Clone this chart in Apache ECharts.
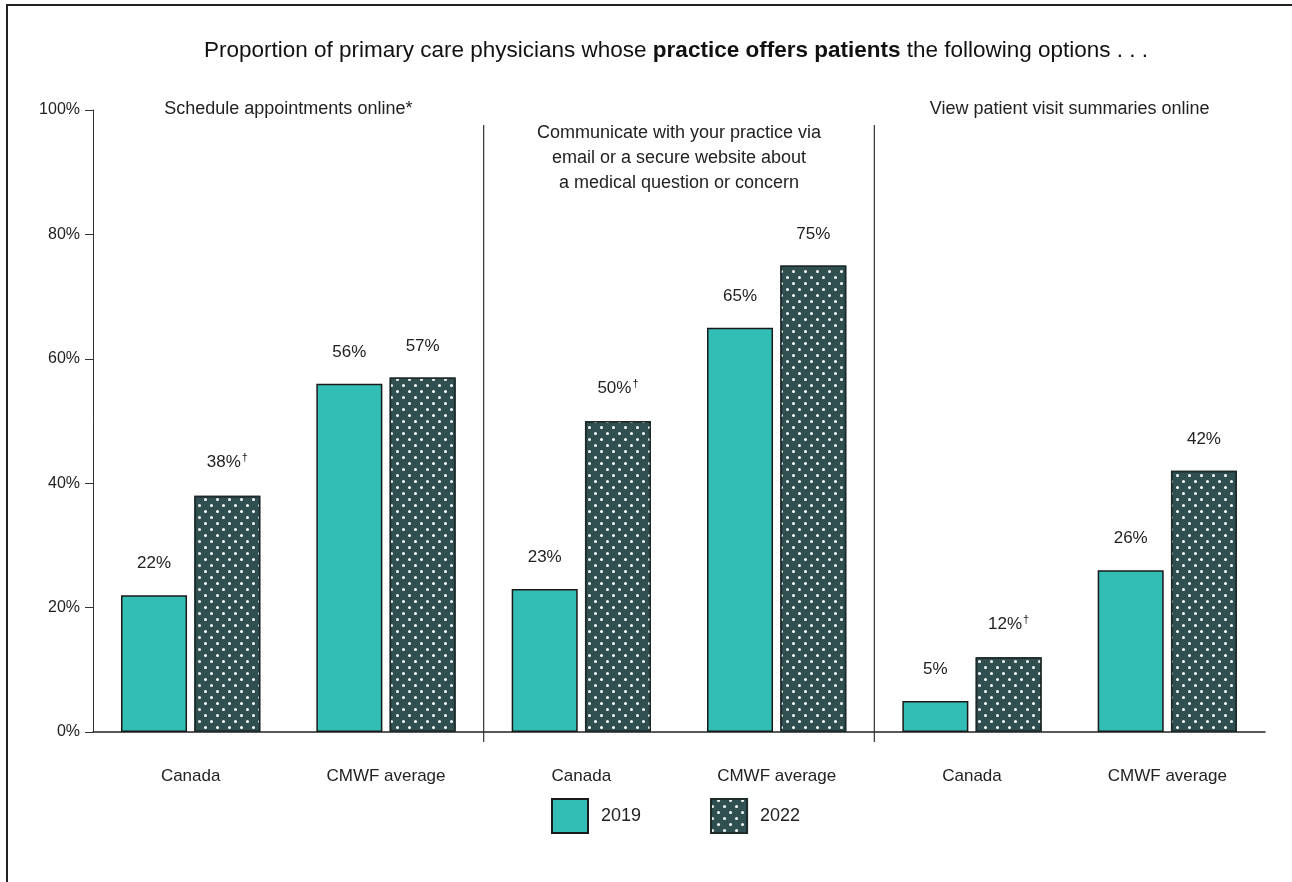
<!DOCTYPE html>
<html>
<head>
<meta charset="utf-8">
<title>Practice offers patients</title>
<script src="https://cdn.jsdelivr.net/npm/echarts@6/dist/echarts.min.js"></script>
<style>
  html, body { margin: 0; padding: 0; background: #fff; }
  #main { position: absolute; left: 0; top: 0; width: 1292px; height: 882px; }
  /* open frame: only left and top edges */
  .frame {
    position: absolute; left: 6px; top: 4px; width: 1286px; height: 878px;
    border-left: 2px solid #222; border-top: 2px solid #222;
    box-sizing: border-box; pointer-events: none;
  }
</style>
</head>
<body>
<div id="main"></div>
<div class="frame"></div>
<script>
const groups = [
  'Schedule appointments online*',
  'Communicate with your practice via\nemail or a secure website about\na medical question or concern',
  'View patient visit summaries online'
];
const categories = ['Canada', 'CMWF average', 'Canada', 'CMWF average', 'Canada', 'CMWF average'];
const values2019 = [22, 56, 23, 65, 5, 26];
const values2022 = [38, 57, 50, 75, 12, 42];
const dagger2022 = [true, false, true, false, true, false];
const yTicks = [0, 20, 40, 60, 80, 100];

const FONT = "'Liberation Sans', Arial, sans-serif";
const TEAL = '#32bdb5';
const DARK = '#2f4f51';

let chart = echarts.init(document.getElementById('main'));

function valueLabel(flags) {
  return {
    show: true,
    position: 'top',
    distance: 23,
    formatter: function (p) {
      let s = '{v|' + p.value + '%}';
      if (flags && flags[p.dataIndex]) s += '{d|\u2020}';
      return s;
    },
    rich: {
      v: { fontSize: 17, fontFamily: FONT, color: '#222' },
      d: { fontSize: 11, fontFamily: FONT, color: '#222', verticalAlign: 'top', padding: [0, 0, 9, 1] }
    }
  };
}

// dividers between the three groups + group headings, placed on a hidden value axis (0..6)
const dividerData = [[2], [4]];
const headingData = groups.map(function (g, i) { return [i * 2 + 1, g]; });

let option = {
  animation: false,
  textStyle: { fontFamily: FONT },
  title: {
    text: '{a|Proportion of primary care physicians whose }{b|practice offers patients}{a| the following options . . .}',
    left: 671,
    textAlign: 'center',
    top: 34,
    textStyle: {
      rich: {
        a: { fontSize: 22.5, fontFamily: FONT, color: '#111', fontWeight: 'normal' },
        b: { fontSize: 22.5, fontFamily: FONT, color: '#111', fontWeight: 'bold' }
      }
    }
  },
  legend: {
    data: ['2019', '2022'],
    left: 546,
    top: 793,
    itemWidth: 36,
    itemHeight: 34,
    itemGap: 69,
    icon: 'rect',
    textStyle: { fontSize: 18, fontFamily: FONT, color: '#222', padding: [0, 0, 0, 8] }
  },
  grid: { left: 93, right: 27, top: 110, bottom: 150, containLabel: false },
  xAxis: [
    {
      type: 'category',
      data: categories,
      axisLine: { lineStyle: { color: '#222', width: 1.5 } },
      axisTick: { length: 10, interval: function (i) { return i > 0; }, lineStyle: { color: '#444', width: 1.2 } },
      axisLabel: { margin: 36, fontSize: 17, fontFamily: FONT, color: '#222', interval: 0 }
    },
    { type: 'value', min: 0, max: 6, show: false }
  ],
  yAxis: {
    type: 'value',
    min: yTicks[0],
    max: yTicks[yTicks.length - 1],
    interval: 20,
    axisLine: { show: true, lineStyle: { color: '#333', width: 1 } },
    axisTick: { show: true, length: 8, lineStyle: { color: '#333' } },
    splitLine: { show: false },
    axisLabel: { margin: 13, fontSize: 16, fontFamily: FONT, color: '#222', formatter: '{value}%' }
  },
  series: [
    {
      name: '2019',
      type: 'bar',
      data: values2019,
      barWidth: '33.8%',
      barGap: '11%',
      itemStyle: { color: TEAL, borderColor: '#1a1a1a', borderWidth: 1.5 },
      label: valueLabel(null)
    },
    {
      name: '2022',
      type: 'bar',
      data: values2022,
      barWidth: '33.8%',
      barGap: '11%',
      itemStyle: {
        color: DARK,
        borderColor: '#1e2b2b',
        borderWidth: 1.5,
        decal: {
          symbol: 'circle',
          color: '#ffffff',
          symbolSize: 1,
          dashArrayX: [[2.8, 8.2], [0, 5.5, 2.8, 2.7]],
          dashArrayY: [2.8, 2.7],
          rotation: 0
        }
      },
      label: valueLabel(dagger2022)
    },
    {
      type: 'custom',
      xAxisIndex: 1,
      yAxisIndex: 0,
      silent: true,
      clip: false,
      data: dividerData,
      renderItem: function (params, api) {
        const top = api.coord([api.value(0), 97.6]);
        const base = api.coord([api.value(0), 0]);
        return {
          type: 'line',
          shape: { x1: top[0], y1: top[1], x2: base[0], y2: base[1] + 10 },
          style: { stroke: '#333', lineWidth: 1.2 }
        };
      }
    },
    {
      type: 'custom',
      xAxisIndex: 1,
      yAxisIndex: 0,
      silent: true,
      clip: false,
      data: headingData,
      encode: { x: 0 },
      renderItem: function (params, api) {
        const text = headingData[params.dataIndex][1];
        const p = api.coord([api.value(0), 100]);
        const multi = text.indexOf('\n') >= 0;
        return {
          type: 'text',
          style: {
            text: text,
            x: p[0],
            y: multi ? p[1] + 11 : p[1] - 1,
            align: 'center',
            verticalAlign: multi ? 'top' : 'middle',
            font: '18px ' + FONT,
            lineHeight: 25,
            fill: '#222'
          }
        };
      }
    }
  ]
};

chart.setOption(option);
window.addEventListener('resize', function () { chart.resize(); });
</script>
</body>
</html>
